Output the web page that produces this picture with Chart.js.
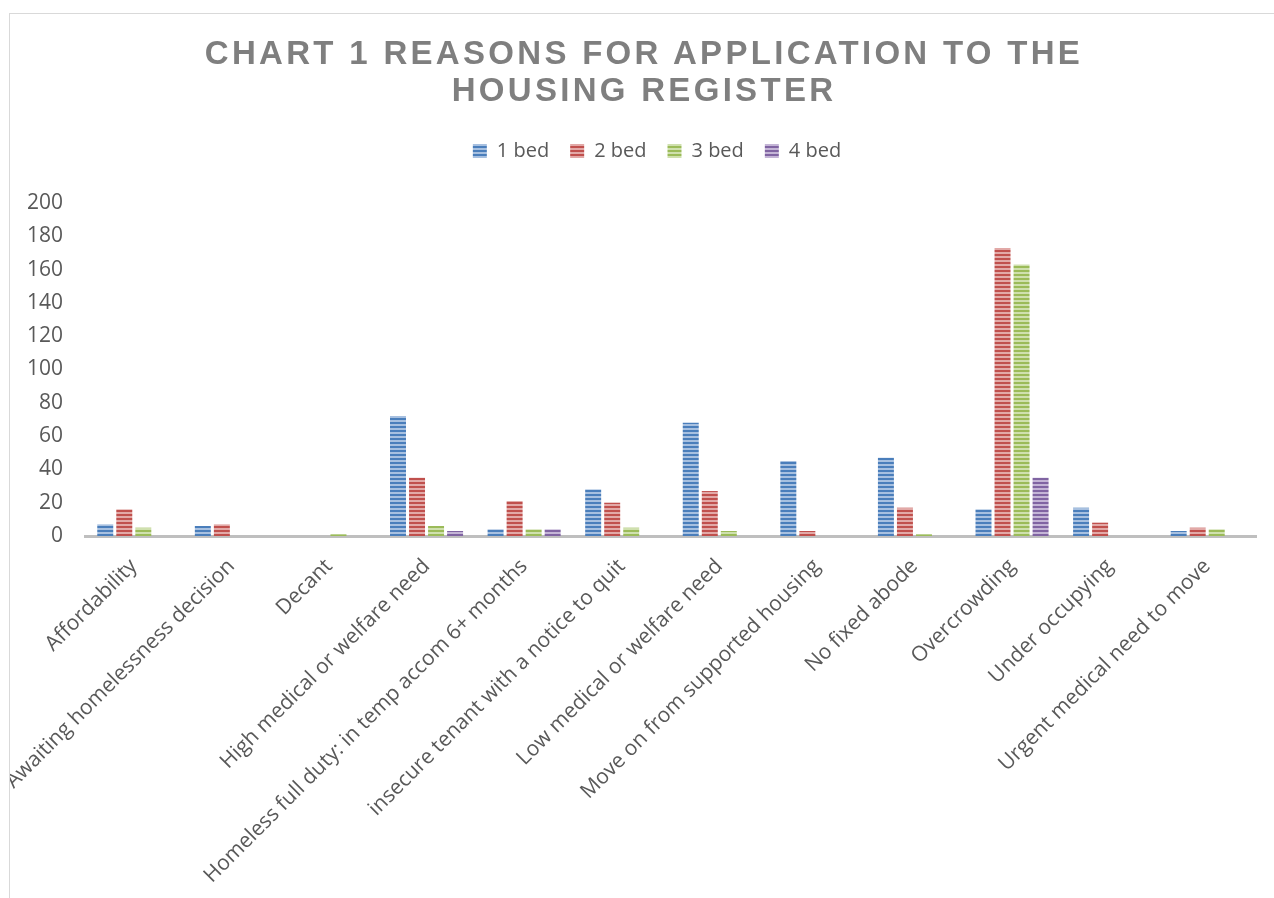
<!DOCTYPE html>
<html>
<head>
<meta charset="utf-8">
<script src="https://cdn.jsdelivr.net/npm/chart.js@4/dist/chart.umd.min.js"></script>
<style>
  body { margin: 0; background: #fff; overflow: hidden; }
  #box {
    position: absolute; left: 9px; top: 13px; width: 1264px; height: 884px;
    border-left: 1px solid #d9d9d9; border-top: 1px solid #d9d9d9;
  }
  #titulo {
    position: absolute; left: 9px; top: 34px; width: 1270px; text-align: center;
    font-family: "Liberation Sans", Arial, sans-serif; font-weight: bold;
    font-size: 33px; line-height: 37px; letter-spacing: 3.3px; color: #7f7f7f;
  }
</style>
</head>
<body>
<div id="box"><canvas id="graficoRegistro" width="1264" height="884"></canvas></div>
<div id="titulo">CHART 1 REASONS FOR APPLICATION TO THE<br>HOUSING REGISTER</div>
<script>
const categorias = [
    'Affordability',
    'Awaiting homelessness decision',
    'Decant',
    'High medical or welfare need',
    'Homeless full duty: in temp accom 6+ months',
    'insecure tenant with a notice to quit',
    'Low medical or welfare need',
    'Move on from supported housing',
    'No fixed abode',
    'Overcrowding',
    'Under occupying',
    'Urgent medical need to move'
];
const cama1 = [7, 6, 0, 72, 4, 28, 68, 45, 47, 16, 17, 3];
const cama2 = [16, 7, 0, 35, 21, 20, 27, 3, 17, 173, 8, 5];
const cama3 = [5, 0, 1, 6, 4, 5, 3, 0, 1, 163, 0, 4];
const cama4 = [0, 0, 0, 3, 4, 0, 0, 0, 0, 35, 0, 0];
const rotulosY = [0, 20, 40, 60, 80, 100, 120, 140, 160, 180, 200];

// listras horizontais como no Excel
function listras(escuro, claro) {
    const c = document.createElement('canvas');
    c.width = 4; c.height = 4;
    const g = c.getContext('2d');
    g.fillStyle = escuro; g.fillRect(0, 0, 4, 2);
    g.fillStyle = claro; g.fillRect(0, 2, 4, 2);
    return g.createPattern(c, 'repeat');
}

const cores = [
    listras('#4a7ebb', '#a7c0e0'),
    listras('#c0504d', '#e2a9a7'),
    listras('#9bbb59', '#cfe0ae'),
    listras('#8064a2', '#c4b5d6')
];

const fonte = { family: '"Open Sans", sans-serif', size: 21 };

// mais espaco abaixo da legenda e legenda um pouco para a direita
const ajusteLegenda = {
    id: 'ajusteLegenda',
    beforeInit(chart) {
        const fitOriginal = chart.legend.fit;
        chart.legend.fit = function () {
            fitOriginal.bind(chart.legend)();
            this.height += 32;
        };
    },
    afterLayout(chart) {
        chart.legend.left += 24;
        chart.legend.right += 24;
    }
};

const ctx = document.getElementById('graficoRegistro').getContext('2d');
new Chart(ctx, {
    type: 'bar',
    data: {
        labels: categorias,
        datasets: [
            { label: '1 bed', data: cama1, backgroundColor: cores[0] },
            { label: '2 bed', data: cama2, backgroundColor: cores[1] },
            { label: '3 bed', data: cama3, backgroundColor: cores[2] },
            { label: '4 bed', data: cama4, backgroundColor: cores[3] }
        ]
    },
    options: {
        responsive: false,
        animation: false,
        layout: { padding: { top: 106, right: 18, bottom: 0, left: 0 } },
        datasets: { bar: { categoryPercentage: 0.78, barPercentage: 0.84, borderWidth: 0 } },
        plugins: {
            title: { display: false },
            tooltip: { enabled: false },
            legend: {
                position: 'top',
                labels: { boxWidth: 14, boxHeight: 14, padding: 21, color: '#595959', font: { family: fonte.family, size: 20 } }
            }
        },
        scales: {
            x: {
                grid: { display: false, drawTicks: false },
                border: { display: true, color: '#bfbfbf', width: 3 },
                ticks: { color: '#595959', font: fonte, minRotation: 45, maxRotation: 45, autoSkip: false, padding: 18 },
                afterFit: scale => { scale.height = 362; }
            },
            y: {
                min: 0, max: 200,
                afterBuildTicks: scale => { scale.ticks = rotulosY.map(v => ({ value: v })); },
                grid: { display: false, drawTicks: false },
                border: { display: false },
                ticks: { color: '#595959', font: fonte, padding: 22 },
                afterFit: scale => { scale.width = 75; }
            }
        }
    },
    plugins: [ajusteLegenda]
});
</script>
</body>
</html>
